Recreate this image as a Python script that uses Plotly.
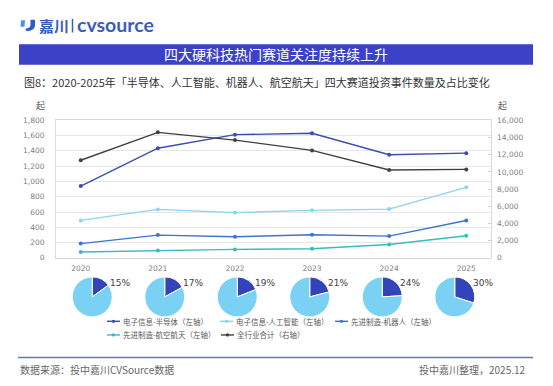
import plotly.graph_objects as go

# page has an 8px body margin, so the figure is 16px smaller than the window
OFF = 8
W, H = 553 - 2 * OFF, 386 - 2 * OFF

years = ["2020", "2021", "2022", "2023", "2024", "2025"]
semiconductor = [940, 1435, 1612, 1630, 1350, 1370]
ai = [490, 634, 592, 622, 638, 923]
robot = [187, 298, 277, 302, 285, 489]
aerospace = [77, 98, 111, 119, 175, 290]
total = [11350, 14600, 13700, 12500, 10220, 10290]
share_pct = [15, 17, 19, 21, 24, 30]

series_names = ["电子信息-半导体（左轴）", "电子信息-人工智能（左轴）", "先进制造-机器人（左轴）",
                "先进制造-航空航天（左轴）", "全行业合计（右轴）"]
series_colors = ["#3A4DB0", "#8ED4EE", "#3D74CF", "#37BCC0", "#404040"]

title_text = "四大硬科技热门赛道关注度持续上升"
subtitle_text = "图8：2020-2025年「半导体、人工智能、机器人、航空航天」四大赛道投资事件数量及占比变化"
source_text = "数据来源：投中嘉川CVSource数据"
note_text = "投中嘉川整理，2025.12"
unit_text = "起"
logo_cn = "嘉川"
logo_en = "cvsource"

CJK = "Noto Sans CJK SC"


def fx(px):
    return (px - OFF) / W


def fy(py):
    return 1 - (py - OFF) / H


PL, PR, PT, PB = 56, 491, 119, 260

fig = go.Figure()

left_series = [semiconductor, ai, robot, aerospace]
for i, vals in enumerate(left_series):
    fig.add_trace(go.Scatter(
        x=years, y=vals, name=series_names[i], mode="lines+markers",
        line=dict(color=series_colors[i], width=1.4),
        marker=dict(color=series_colors[i], size=4),
        showlegend=False, xaxis="x", yaxis="y"))

fig.add_trace(go.Scatter(
    x=years, y=total, name=series_names[4], mode="lines+markers",
    line=dict(color=series_colors[4], width=1.4),
    marker=dict(color=series_colors[4], size=4),
    showlegend=False, xaxis="x", yaxis="y2"))

# pies
step = (PR - PL) / len(years)
R = 20.5
PCY = 300
for i, p in enumerate(share_pct):
    cx = PL + step * (i + 0.5)
    fig.add_trace(go.Pie(
        values=[p, 100 - p], sort=False, direction="clockwise", rotation=0,
        marker=dict(colors=["#3344BB", "#7BD1F3"], line=dict(color="white", width=1)),
        textinfo="none", hoverinfo="skip", showlegend=False,
        domain=dict(x=[fx(cx - R), fx(cx + R)], y=[fy(PCY + R), fy(PCY - R)])))
    fig.add_annotation(x=fx(cx + 16), y=fy(286), xref="paper", yref="paper",
                       text=f"{p}%", showarrow=False, xanchor="left", yanchor="middle",
                       font=dict(family="DejaVu Sans", size=9, color="#404040"))

tickfont = dict(family="DejaVu Sans", size=7.5, color="#808080")

fig.update_layout(
    width=W, height=H, margin=dict(l=0, r=0, t=0, b=0),
    paper_bgcolor="white", plot_bgcolor="white",
    xaxis=dict(domain=[fx(PL), fx(PR)], showgrid=False, showline=True, mirror=True,
               linecolor="#D9D9D9", linewidth=1, tickfont=tickfont, ticks="",
               ticklabelstandoff=3, fixedrange=True),
    yaxis=dict(domain=[fy(PB), fy(PT)], range=[0, 1800], dtick=200, tickformat=",",
               showgrid=True, gridcolor="#E6E6E6", gridwidth=1, zeroline=False,
               showline=True, mirror=True, linecolor="#D9D9D9", tickfont=tickfont,
               ticks="", ticklabelstandoff=9),
    yaxis2=dict(overlaying="y", side="right", range=[0, 16000], dtick=2000, tickformat=",",
                showgrid=False, zeroline=False, showline=False, tickfont=tickfont,
                ticks="inside", ticklen=3, tickcolor="#D0D0D0", ticklabelstandoff=5),
    showlegend=False,
)

# legend (drawn as line + dot + label per series)
legend_pos = [(107, 325), (220, 325), (335, 325), (107, 339), (221, 339)]
for i, (lx, ly) in enumerate(legend_pos):
    c = series_colors[i]
    fig.add_shape(type="line", xref="paper", yref="paper", x0=fx(lx), x1=fx(lx + 13),
                  y0=fy(ly), y1=fy(ly), line=dict(color=c, width=1.4))
    fig.add_shape(type="circle", xref="paper", yref="paper", x0=fx(lx + 4.8), x1=fx(lx + 8.2),
                  y0=fy(ly + 1.7), y1=fy(ly - 1.7), fillcolor=c, line=dict(width=0))
    fig.add_annotation(x=fx(lx + 14), y=fy(ly), xref="paper", yref="paper",
                       text=series_names[i], showarrow=False, xanchor="left", yanchor="middle",
                       font=dict(family=CJK, size=7.5, color="#595959"))

# header: logo icon
fig.add_shape(type="path", xref="paper", yref="paper",
              path=(f"M {fx(21)},{fy(16.5)} L {fx(25)},{fy(16.5)} L {fx(24.5)},{fy(23)} "
                    f"L {fx(20.5)},{fy(23)} Z"),
              fillcolor="#4C93E6", line=dict(width=0))
fig.add_shape(type="path", xref="paper", yref="paper",
              path=(f"M {fx(30.5)},{fy(16)} L {fx(35)},{fy(16)} L {fx(35)},{fy(22)} "
                    f"Q {fx(34.5)},{fy(27.5)} {fx(26)},{fy(27.5)} L {fx(25.5)},{fy(25)} "
                    f"Q {fx(30.5)},{fy(24.5)} {fx(30.5)},{fy(21)} Z"),
              fillcolor="#2E5CC6", line=dict(width=0))
fig.add_annotation(x=fx(37), y=fy(22), xref="paper", yref="paper", text=logo_cn,
                   showarrow=False, xanchor="left", yanchor="middle",
                   font=dict(family=CJK, size=15, color="#3A5DBA", weight="bold"))
fig.add_shape(type="line", xref="paper", yref="paper", x0=fx(72.5), x1=fx(72.5),
              y0=fy(15), y1=fy(29), line=dict(color="#3A5DBA", width=1.5))
fig.add_annotation(x=fx(75), y=fy(21), xref="paper", yref="paper", text=logo_en,
                   showarrow=False, xanchor="left", yanchor="middle",
                   font=dict(family="Lato", size=19.5, color="#3A5DBA", weight="bold"))

# title bar
fig.add_shape(type="rect", xref="paper", yref="paper", x0=fx(19), x1=fx(533),
              y0=fy(62), y1=fy(41), fillcolor="#3B42C6", line=dict(width=0), layer="below")
fig.add_annotation(x=fx(276), y=fy(51.5), xref="paper", yref="paper", text=title_text,
                   showarrow=False, xanchor="center", yanchor="middle",
                   font=dict(family=CJK, size=14, color="white"))

# subtitle
fig.add_annotation(x=fx(22), y=fy(80), xref="paper", yref="paper", text=subtitle_text,
                   showarrow=False, xanchor="left", yanchor="middle",
                   font=dict(family=CJK, size=11, color="#333333"))

# units
fig.add_annotation(x=fx(40), y=fy(104), xref="paper", yref="paper", text=unit_text,
                   showarrow=False, xanchor="center", yanchor="middle",
                   font=dict(family=CJK, size=9, color="#595959"))
fig.add_annotation(x=fx(502), y=fy(104), xref="paper", yref="paper", text=unit_text,
                   showarrow=False, xanchor="center", yanchor="middle",
                   font=dict(family=CJK, size=9, color="#595959"))

# footer
fig.add_shape(type="line", xref="paper", yref="paper", x0=fx(18), x1=fx(533),
              y0=fy(362), y1=fy(362), line=dict(color="#6878A8", width=1.5))
fig.add_annotation(x=fx(18), y=fy(374), xref="paper", yref="paper", text=source_text,
                   showarrow=False, xanchor="left", yanchor="middle",
                   font=dict(family=CJK, size=10, color="#666666"))
fig.add_annotation(x=fx(528), y=fy(374), xref="paper", yref="paper", text=note_text,
                   showarrow=False, xanchor="right", yanchor="middle",
                   font=dict(family=CJK, size=10, color="#666666"))

fig.write_html("out.html")
